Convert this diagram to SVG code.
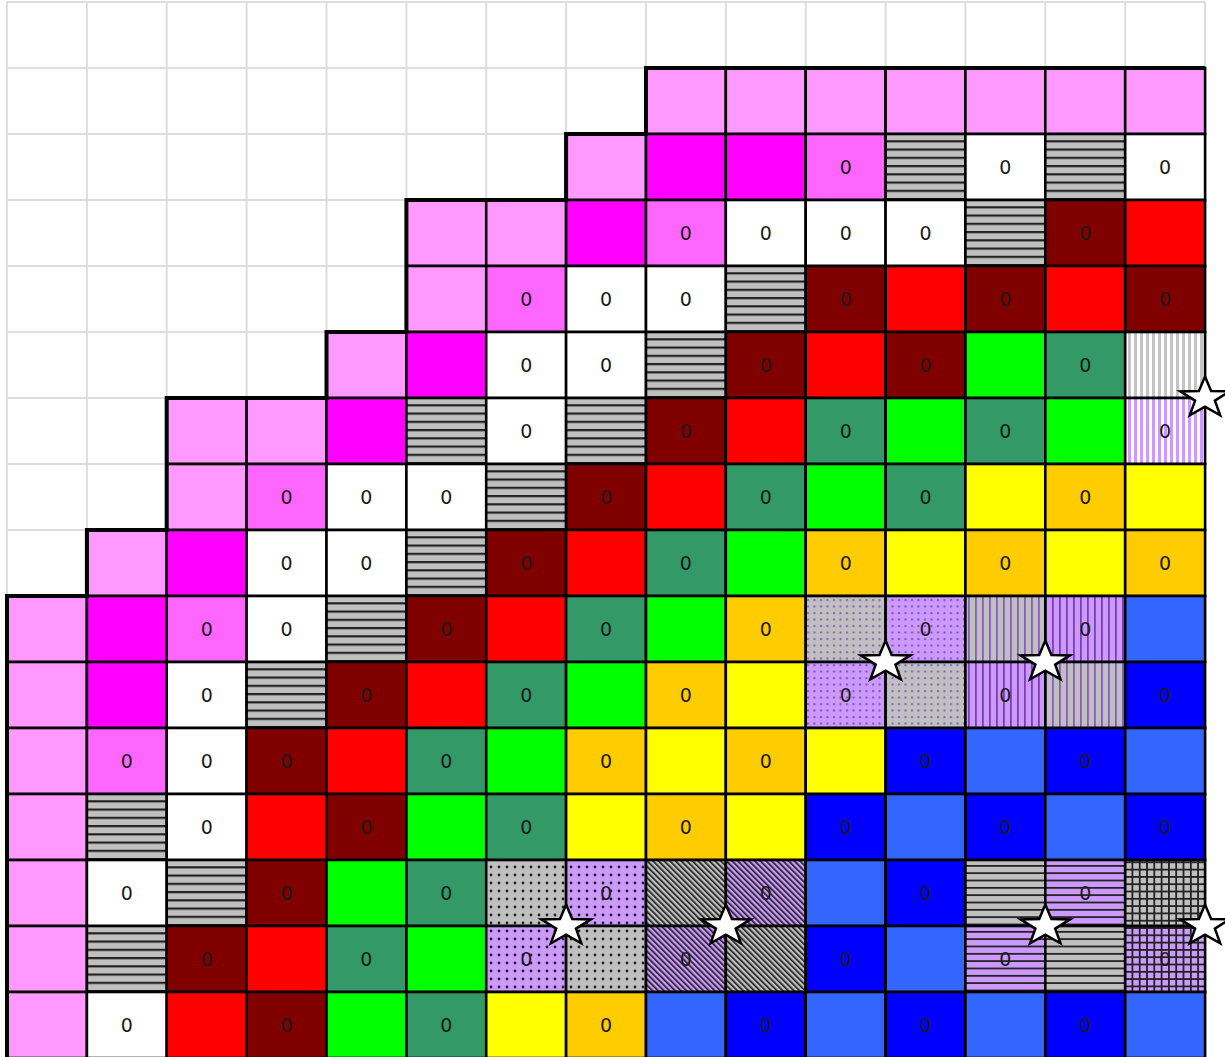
<svg xmlns="http://www.w3.org/2000/svg" width="1225" height="1057" viewBox="0 0 1225 1057">
<style>
.c{width:79.9px;height:66px;stroke:#000;stroke-width:2.6}
.P{fill:#FF99FF}.M{fill:#FF00FF}.L{fill:#FF66FF}.W{fill:#FFFFFF}.S{fill:url(#hs)}
.D{fill:#800000}.R{fill:#FF0000}.G{fill:#00FF00}.E{fill:#339966}.Y{fill:#FFFF00}
.O{fill:#FFCC00}.B{fill:#3366FF}.N{fill:#0000FF}
.VG{fill:url(#vg)}.VP{fill:url(#vp)}.DG1{fill:url(#d1g)}.DP1{fill:url(#d1p)}
.V1G{fill:url(#v1g)}.V1P{fill:url(#v1p)}.DG2{fill:url(#d2g)}.DP2{fill:url(#d2p)}
.HG{fill:url(#hg)}.HP{fill:url(#hp)}.LG{fill:url(#lg)}.LP{fill:url(#lp)}.GG{fill:url(#gg)}.GP{fill:url(#gp)}
text{font-family:"DejaVu Sans","Liberation Sans",sans-serif;font-size:19px;fill:#1a1a1a;text-anchor:middle}
.star{fill:#fff;stroke:#000;stroke-width:2.5;stroke-linejoin:miter}
</style>
<defs>
<pattern id="hs" patternUnits="userSpaceOnUse" width="10" height="8.25"><rect width="10" height="8.25" fill="#C0C0C0"/><rect y="0" width="10" height="2.2" fill="#222"/></pattern>
<pattern id="vg" patternUnits="userSpaceOnUse" width="6" height="10"><rect width="6" height="10" fill="#fff"/><rect width="3" height="10" fill="#C4C4C4"/></pattern>
<pattern id="vp" patternUnits="userSpaceOnUse" width="6" height="10"><rect width="6" height="10" fill="#fff"/><rect width="3" height="10" fill="#CC99FF"/></pattern>
<pattern id="d1g" patternUnits="userSpaceOnUse" width="6.5" height="6.5"><rect width="6.5" height="6.5" fill="#C0C0C0"/><circle cx="2" cy="2" r="1.1" fill="#8A5CC0"/></pattern>
<pattern id="d1p" patternUnits="userSpaceOnUse" width="6.5" height="6.5"><rect width="6.5" height="6.5" fill="#CC99FF"/><circle cx="2" cy="2" r="1.1" fill="#8050B0"/></pattern>
<pattern id="v1g" patternUnits="userSpaceOnUse" width="7" height="10"><rect width="7" height="10" fill="#C0C0C0"/><rect x="2" width="1.8" height="10" fill="#8A5CC0"/></pattern>
<pattern id="v1p" patternUnits="userSpaceOnUse" width="7" height="10"><rect width="7" height="10" fill="#CC99FF"/><rect x="2" width="1.8" height="10" fill="#7A3FB0"/></pattern>
<pattern id="d2g" patternUnits="userSpaceOnUse" width="8" height="8"><rect width="8" height="8" fill="#C0C0C0"/><circle cx="3" cy="3" r="1.4" fill="#222"/></pattern>
<pattern id="d2p" patternUnits="userSpaceOnUse" width="8" height="8"><rect width="8" height="8" fill="#CC99FF"/><circle cx="3" cy="3" r="1.4" fill="#222"/></pattern>
<pattern id="hg" patternUnits="userSpaceOnUse" width="4" height="10" patternTransform="rotate(-45)"><rect width="4" height="10" fill="#C0C0C0"/><rect width="1.7" height="10" fill="#222"/></pattern>
<pattern id="hp" patternUnits="userSpaceOnUse" width="4" height="10" patternTransform="rotate(-45)"><rect width="4" height="10" fill="#CC99FF"/><rect width="1.7" height="10" fill="#222"/></pattern>
<pattern id="lg" patternUnits="userSpaceOnUse" width="10" height="7.33"><rect width="10" height="7.33" fill="#C0C0C0"/><rect width="10" height="1.8" fill="#222"/></pattern>
<pattern id="lp" patternUnits="userSpaceOnUse" width="10" height="7.33"><rect width="10" height="7.33" fill="#CC99FF"/><rect width="10" height="1.8" fill="#222"/></pattern>
<pattern id="gg" patternUnits="userSpaceOnUse" width="7.3" height="7.3"><rect width="7.3" height="7.3" fill="#C0C0C0"/><rect width="1.8" height="7.3" fill="#222"/><rect width="7.3" height="1.8" fill="#222"/></pattern>
<pattern id="gp" patternUnits="userSpaceOnUse" width="7.3" height="7.3"><rect width="7.3" height="7.3" fill="#CC99FF"/><rect width="1.8" height="7.3" fill="#222"/><rect width="7.3" height="1.8" fill="#222"/></pattern>
<path id="star" class="star" d="M0,-21.4 L6.1,-6.9 L24.7,-6.6 L9.9,2.6 L15.2,17.3 L0,8.6 L-15.2,17.3 L-9.9,2.6 L-24.7,-6.6 L-6.1,-6.9 Z"/>
</defs>
<rect width="1225" height="1057" fill="#fff"/>
<g id="grid" fill="none" stroke="#DDDDDD" stroke-width="2">
<path d="M7,2V1058M86.9,2V1058M166.7,2V1058M246.6,2V1058M326.5,2V1058M406.4,2V1058M486.2,2V1058M566.1,2V1058M646,2V1058M725.8,2V1058M805.7,2V1058M885.6,2V1058M965.4,2V1058M1045.3,2V1058M1125.2,2V1058M1205,2V1058"/>
<path d="M7,2H1205M7,68H1205M7,134H1205M7,200H1205M7,266H1205M7,332H1205M7,398H1205M7,464H1205M7,530H1205M7,596H1205M7,662H1205M7,728H1205M7,794H1205M7,860H1205M7,926H1205M7,992H1205"/>
</g>
<g id="cells">
<g id="row1">
<rect class="c P" x="646" y="68"/><rect class="c P" x="725.8" y="68"/><rect class="c P" x="805.7" y="68"/><rect class="c P" x="885.6" y="68"/><rect class="c P" x="965.4" y="68"/><rect class="c P" x="1045.3" y="68"/><rect class="c P" x="1125.2" y="68"/>
</g>
<g id="row2">
<rect class="c P" x="566.1" y="134"/><rect class="c M" x="646" y="134"/><rect class="c M" x="725.8" y="134"/><rect class="c L" x="805.7" y="134"/><rect class="c S" x="885.6" y="134"/><rect class="c W" x="965.4" y="134"/><rect class="c S" x="1045.3" y="134"/><rect class="c W" x="1125.2" y="134"/>
</g>
<g id="row3">
<rect class="c P" x="406.4" y="200"/><rect class="c P" x="486.2" y="200"/><rect class="c M" x="566.1" y="200"/><rect class="c L" x="646" y="200"/><rect class="c W" x="725.8" y="200"/><rect class="c W" x="805.7" y="200"/><rect class="c W" x="885.6" y="200"/><rect class="c S" x="965.4" y="200"/><rect class="c D" x="1045.3" y="200"/><rect class="c R" x="1125.2" y="200"/>
</g>
<g id="row4">
<rect class="c P" x="406.4" y="266"/><rect class="c L" x="486.2" y="266"/><rect class="c W" x="566.1" y="266"/><rect class="c W" x="646" y="266"/><rect class="c S" x="725.8" y="266"/><rect class="c D" x="805.7" y="266"/><rect class="c R" x="885.6" y="266"/><rect class="c D" x="965.4" y="266"/><rect class="c R" x="1045.3" y="266"/><rect class="c D" x="1125.2" y="266"/>
</g>
<g id="row5">
<rect class="c P" x="326.5" y="332"/><rect class="c M" x="406.4" y="332"/><rect class="c W" x="486.2" y="332"/><rect class="c W" x="566.1" y="332"/><rect class="c S" x="646" y="332"/><rect class="c D" x="725.8" y="332"/><rect class="c R" x="805.7" y="332"/><rect class="c D" x="885.6" y="332"/><rect class="c G" x="965.4" y="332"/><rect class="c E" x="1045.3" y="332"/><rect class="c VG" x="1125.2" y="332"/>
</g>
<g id="row6">
<rect class="c P" x="166.7" y="398"/><rect class="c P" x="246.6" y="398"/><rect class="c M" x="326.5" y="398"/><rect class="c S" x="406.4" y="398"/><rect class="c W" x="486.2" y="398"/><rect class="c S" x="566.1" y="398"/><rect class="c D" x="646" y="398"/><rect class="c R" x="725.8" y="398"/><rect class="c E" x="805.7" y="398"/><rect class="c G" x="885.6" y="398"/><rect class="c E" x="965.4" y="398"/><rect class="c G" x="1045.3" y="398"/><rect class="c VP" x="1125.2" y="398"/>
</g>
<g id="row7">
<rect class="c P" x="166.7" y="464"/><rect class="c L" x="246.6" y="464"/><rect class="c W" x="326.5" y="464"/><rect class="c W" x="406.4" y="464"/><rect class="c S" x="486.2" y="464"/><rect class="c D" x="566.1" y="464"/><rect class="c R" x="646" y="464"/><rect class="c E" x="725.8" y="464"/><rect class="c G" x="805.7" y="464"/><rect class="c E" x="885.6" y="464"/><rect class="c Y" x="965.4" y="464"/><rect class="c O" x="1045.3" y="464"/><rect class="c Y" x="1125.2" y="464"/>
</g>
<g id="row8">
<rect class="c P" x="86.9" y="530"/><rect class="c M" x="166.7" y="530"/><rect class="c W" x="246.6" y="530"/><rect class="c W" x="326.5" y="530"/><rect class="c S" x="406.4" y="530"/><rect class="c D" x="486.2" y="530"/><rect class="c R" x="566.1" y="530"/><rect class="c E" x="646" y="530"/><rect class="c G" x="725.8" y="530"/><rect class="c O" x="805.7" y="530"/><rect class="c Y" x="885.6" y="530"/><rect class="c O" x="965.4" y="530"/><rect class="c Y" x="1045.3" y="530"/><rect class="c O" x="1125.2" y="530"/>
</g>
<g id="row9">
<rect class="c P" x="7" y="596"/><rect class="c M" x="86.9" y="596"/><rect class="c L" x="166.7" y="596"/><rect class="c W" x="246.6" y="596"/><rect class="c S" x="326.5" y="596"/><rect class="c D" x="406.4" y="596"/><rect class="c R" x="486.2" y="596"/><rect class="c E" x="566.1" y="596"/><rect class="c G" x="646" y="596"/><rect class="c O" x="725.8" y="596"/><rect class="c DG1" x="805.7" y="596"/><rect class="c DP1" x="885.6" y="596"/><rect class="c V1G" x="965.4" y="596"/><rect class="c V1P" x="1045.3" y="596"/><rect class="c B" x="1125.2" y="596"/>
</g>
<g id="row10">
<rect class="c P" x="7" y="662"/><rect class="c M" x="86.9" y="662"/><rect class="c W" x="166.7" y="662"/><rect class="c S" x="246.6" y="662"/><rect class="c D" x="326.5" y="662"/><rect class="c R" x="406.4" y="662"/><rect class="c E" x="486.2" y="662"/><rect class="c G" x="566.1" y="662"/><rect class="c O" x="646" y="662"/><rect class="c Y" x="725.8" y="662"/><rect class="c DP1" x="805.7" y="662"/><rect class="c DG1" x="885.6" y="662"/><rect class="c V1P" x="965.4" y="662"/><rect class="c V1G" x="1045.3" y="662"/><rect class="c N" x="1125.2" y="662"/>
</g>
<g id="row11">
<rect class="c P" x="7" y="728"/><rect class="c L" x="86.9" y="728"/><rect class="c W" x="166.7" y="728"/><rect class="c D" x="246.6" y="728"/><rect class="c R" x="326.5" y="728"/><rect class="c E" x="406.4" y="728"/><rect class="c G" x="486.2" y="728"/><rect class="c O" x="566.1" y="728"/><rect class="c Y" x="646" y="728"/><rect class="c O" x="725.8" y="728"/><rect class="c Y" x="805.7" y="728"/><rect class="c N" x="885.6" y="728"/><rect class="c B" x="965.4" y="728"/><rect class="c N" x="1045.3" y="728"/><rect class="c B" x="1125.2" y="728"/>
</g>
<g id="row12">
<rect class="c P" x="7" y="794"/><rect class="c S" x="86.9" y="794"/><rect class="c W" x="166.7" y="794"/><rect class="c R" x="246.6" y="794"/><rect class="c D" x="326.5" y="794"/><rect class="c G" x="406.4" y="794"/><rect class="c E" x="486.2" y="794"/><rect class="c Y" x="566.1" y="794"/><rect class="c O" x="646" y="794"/><rect class="c Y" x="725.8" y="794"/><rect class="c N" x="805.7" y="794"/><rect class="c B" x="885.6" y="794"/><rect class="c N" x="965.4" y="794"/><rect class="c B" x="1045.3" y="794"/><rect class="c N" x="1125.2" y="794"/>
</g>
<g id="row13">
<rect class="c P" x="7" y="860"/><rect class="c W" x="86.9" y="860"/><rect class="c S" x="166.7" y="860"/><rect class="c D" x="246.6" y="860"/><rect class="c G" x="326.5" y="860"/><rect class="c E" x="406.4" y="860"/><rect class="c DG2" x="486.2" y="860"/><rect class="c DP2" x="566.1" y="860"/><rect class="c HG" x="646" y="860"/><rect class="c HP" x="725.8" y="860"/><rect class="c B" x="805.7" y="860"/><rect class="c N" x="885.6" y="860"/><rect class="c LG" x="965.4" y="860"/><rect class="c LP" x="1045.3" y="860"/><rect class="c GG" x="1125.2" y="860"/>
</g>
<g id="row14">
<rect class="c P" x="7" y="926"/><rect class="c S" x="86.9" y="926"/><rect class="c D" x="166.7" y="926"/><rect class="c R" x="246.6" y="926"/><rect class="c E" x="326.5" y="926"/><rect class="c G" x="406.4" y="926"/><rect class="c DP2" x="486.2" y="926"/><rect class="c DG2" x="566.1" y="926"/><rect class="c HP" x="646" y="926"/><rect class="c HG" x="725.8" y="926"/><rect class="c N" x="805.7" y="926"/><rect class="c B" x="885.6" y="926"/><rect class="c LP" x="965.4" y="926"/><rect class="c LG" x="1045.3" y="926"/><rect class="c GP" x="1125.2" y="926"/>
</g>
<g id="row15">
<rect class="c P" x="7" y="992"/><rect class="c W" x="86.9" y="992"/><rect class="c R" x="166.7" y="992"/><rect class="c D" x="246.6" y="992"/><rect class="c G" x="326.5" y="992"/><rect class="c E" x="406.4" y="992"/><rect class="c Y" x="486.2" y="992"/><rect class="c O" x="566.1" y="992"/><rect class="c B" x="646" y="992"/><rect class="c N" x="725.8" y="992"/><rect class="c B" x="805.7" y="992"/><rect class="c N" x="885.6" y="992"/><rect class="c B" x="965.4" y="992"/><rect class="c N" x="1045.3" y="992"/><rect class="c B" x="1125.2" y="992"/>
</g>
</g>
<path id="outline" fill="none" stroke="#000" stroke-width="4" d="M7,1058V596H86.9V530H166.7V398H326.5V332H406.4V200H566.1V134H646V68H1205"/>
<g id="labels">
<text x="845.7" y="174">0</text><text x="1005.4" y="174">0</text><text x="1165.1" y="174">0</text>
<text x="685.9" y="240">0</text><text x="765.8" y="240">0</text><text x="845.7" y="240">0</text><text x="925.5" y="240">0</text><text x="1085.3" y="240">0</text>
<text x="526.2" y="306">0</text><text x="606" y="306">0</text><text x="685.9" y="306">0</text><text x="845.7" y="306">0</text><text x="1005.4" y="306">0</text><text x="1165.1" y="306">0</text>
<text x="526.2" y="372">0</text><text x="606" y="372">0</text><text x="765.8" y="372">0</text><text x="925.5" y="372">0</text><text x="1085.3" y="372">0</text>
<text x="526.2" y="438">0</text><text x="685.9" y="438">0</text><text x="845.7" y="438">0</text><text x="1005.4" y="438">0</text><text x="1165.1" y="438">0</text>
<text x="286.6" y="504">0</text><text x="366.4" y="504">0</text><text x="446.3" y="504">0</text><text x="606" y="504">0</text><text x="765.8" y="504">0</text><text x="925.5" y="504">0</text><text x="1085.3" y="504">0</text>
<text x="286.6" y="570">0</text><text x="366.4" y="570">0</text><text x="526.2" y="570">0</text><text x="685.9" y="570">0</text><text x="845.7" y="570">0</text><text x="1005.4" y="570">0</text><text x="1165.1" y="570">0</text>
<text x="206.7" y="636">0</text><text x="286.6" y="636">0</text><text x="446.3" y="636">0</text><text x="606" y="636">0</text><text x="765.8" y="636">0</text><text x="925.5" y="636">0</text><text x="1085.3" y="636">0</text>
<text x="206.7" y="702">0</text><text x="366.4" y="702">0</text><text x="526.2" y="702">0</text><text x="685.9" y="702">0</text><text x="845.7" y="702">0</text><text x="1005.4" y="702">0</text><text x="1165.1" y="702">0</text>
<text x="126.8" y="768">0</text><text x="206.7" y="768">0</text><text x="286.6" y="768">0</text><text x="446.3" y="768">0</text><text x="606" y="768">0</text><text x="765.8" y="768">0</text><text x="925.5" y="768">0</text><text x="1085.3" y="768">0</text>
<text x="206.7" y="834">0</text><text x="366.4" y="834">0</text><text x="526.2" y="834">0</text><text x="685.9" y="834">0</text><text x="845.7" y="834">0</text><text x="1005.4" y="834">0</text><text x="1165.1" y="834">0</text>
<text x="126.8" y="900">0</text><text x="286.6" y="900">0</text><text x="446.3" y="900">0</text><text x="606" y="900">0</text><text x="765.8" y="900">0</text><text x="925.5" y="900">0</text><text x="1085.3" y="900">0</text>
<text x="206.7" y="966">0</text><text x="366.4" y="966">0</text><text x="526.2" y="966">0</text><text x="685.9" y="966">0</text><text x="845.7" y="966">0</text><text x="1005.4" y="966">0</text><text x="1165.1" y="966">0</text>
<text x="126.8" y="1032">0</text><text x="286.6" y="1032">0</text><text x="446.3" y="1032">0</text><text x="606" y="1032">0</text><text x="765.8" y="1032">0</text><text x="925.5" y="1032">0</text><text x="1085.3" y="1032">0</text>
</g>
<g id="stars">
<use href="#star" x="1205" y="398"/><use href="#star" x="885.6" y="662"/><use href="#star" x="1045.3" y="662"/>
<use href="#star" x="566.1" y="926"/><use href="#star" x="725.8" y="926"/><use href="#star" x="1045.3" y="926"/><use href="#star" x="1205" y="926"/>
</g>
</svg>
